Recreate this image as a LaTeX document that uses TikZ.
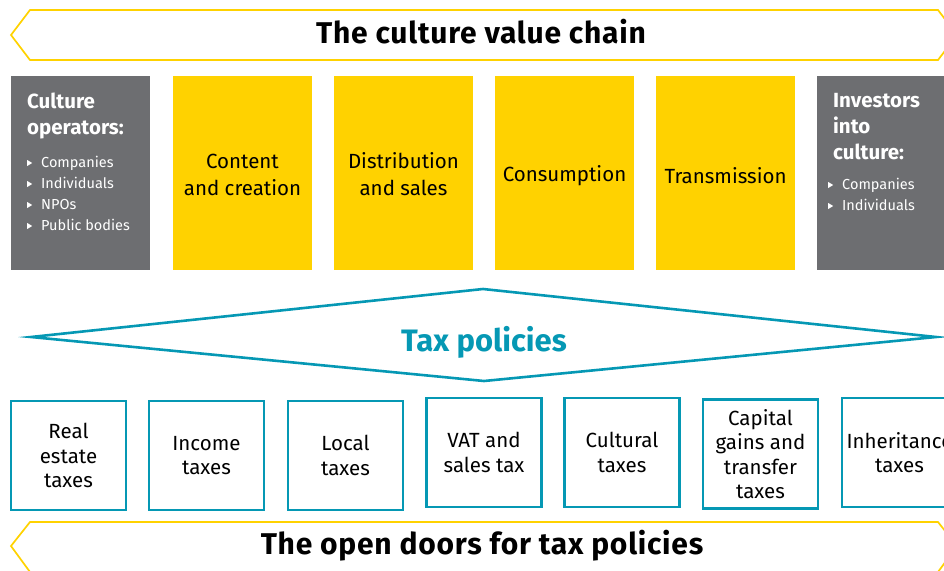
\documentclass[tikz,border=0pt]{standalone}
\usepackage{fontspec}
\setmainfont{Fira Sans}
\definecolor{eyyellow}{HTML}{FFD200}
\definecolor{eygrey}{HTML}{6D6E71}
\definecolor{eyteal}{HTML}{0598B4}
\newcommand{\bultri}{\tikz[baseline=0pt]\fill[white] (0pt,1pt) -- (0pt,7pt) -- (5pt,4pt) -- cycle;}
\tikzset{
  banner/.style={draw=eyyellow, line width=1.7pt, line join=miter},
  bannertext/.style={font=\fontsize{30}{32}\bfseries\addfontfeatures{LetterSpace=2.5}\selectfont, text=black, inner sep=0pt},
  greybox/.style={fill=eygrey, minimum width=139pt, minimum height=194pt, inner sep=0pt},
  greyhead/.style={font=\fontsize{20.5}{26}\bfseries\selectfont, text=white, inner sep=0pt, anchor=base west},
  greyitem/.style={font=\fontsize{14.5}{21}\selectfont, text=white, inner sep=0pt, anchor=base west},
  yellowbox/.style={fill=eyyellow, minimum width=139pt, minimum height=194pt, inner sep=0pt},
  yellowtext/.style={inner sep=0pt, align=center, font=\fontsize{20.5}{27}\selectfont},
  hexa/.style={draw=eyteal, line width=2.6pt, line join=miter},
  taxtitle/.style={font=\fontsize{31}{34}\bfseries\selectfont, text=eyteal, inner sep=0pt},
  taxbox/.style={draw=eyteal, line width=2.3pt, minimum width=115pt, minimum height=109pt, inner sep=0pt, align=center, font=\fontsize{20.5}{24.5}\selectfont},
}
\begin{document}
\begin{tikzpicture}[x=1pt,y=-1pt]
\useasboundingbox (0,0) rectangle (944,570);
% top banner
\draw[banner] (957,35) -- (938,10) -- (30,10) -- (11,35) -- (30,60) -- (938,60) -- cycle;
\node[bannertext, anchor=base] (title) at (481,43) {The culture value chain};
% top row
\node[greybox] (ops) at (80.5,173) {};
\node[greyhead] (opsh1) at (27,108) {Culture};
\node[greyhead] (opsh2) at (27,134) {operators:};
\node[greyitem] (ops1) at (27,167) {\bultri\hspace{9pt}Companies};
\node[greyitem] (ops2) at (27,188) {\bultri\hspace{9pt}Individuals};
\node[greyitem] (ops3) at (27,209) {\bultri\hspace{9pt}NPOs};
\node[greyitem] (ops4) at (27,230) {\bultri\hspace{9pt}Public bodies};
\node[yellowbox] (content) at (242.5,173) {};
\node[yellowbox] (distr) at (403.5,173) {};
\node[yellowbox] (consum) at (564.5,173) {};
\node[yellowbox] (trans) at (725.5,173) {};
\node[yellowtext] (contentt) at ([yshift=-1.5pt]content.center) {Content\\and creation};
\node[yellowtext] (distrt) at ([yshift=-1.5pt]distr.center) {Distribution\\and sales};
\node[yellowtext] (consumt) at ([yshift=-2.5pt]consum.center) {Consumption};
\node[yellowtext] (transt) at ([yshift=-2.5pt]trans.center) {Transmission};
\node[greybox] (inv) at (886.5,173) {};
\node[greyhead] (invh1) at (833,107) {Investors};
\node[greyhead] (invh2) at (833,133) {into};
\node[greyhead] (invh3) at (833,159) {culture:};
\node[greyitem] (inv1) at (828,189) {\bultri\hspace{9pt}Companies};
\node[greyitem] (inv2) at (828,210) {\bultri\hspace{9pt}Individuals};
% tax policies
\draw[hexa] (31,337) -- (483,289) -- (936,337) -- (484,381) -- cycle;
\node[taxtitle, anchor=base] (taxp) at (484,351) {Tax policies};
% tax boxes
\node[taxbox] (t1) at (68.5,455.5) {Real\\estate\\taxes};
\node[taxbox] (t2) at (206.5,455.5) {Income\\taxes};
\node[taxbox] (t3) at (345.5,455.5) {Local\\taxes};
\node[taxbox] (t4) at (484,452.5) {VAT and\\sales tax};
\node[taxbox] (t5) at (622,452.5) {Cultural\\taxes};
\node[taxbox] (t6) at (760.5,454) {Capital\\gains and\\transfer\\taxes};
\node[taxbox] (t7) at (899.5,452.5) {Inheritance\\taxes};
% bottom banner
\draw[banner] (957,546) -- (938,522) -- (30,522) -- (11,546) -- (30,572) -- (938,572) -- cycle;
\node[bannertext, anchor=base] (doors) at (482,554) {The open doors for tax policies};
\end{tikzpicture}
\end{document}
